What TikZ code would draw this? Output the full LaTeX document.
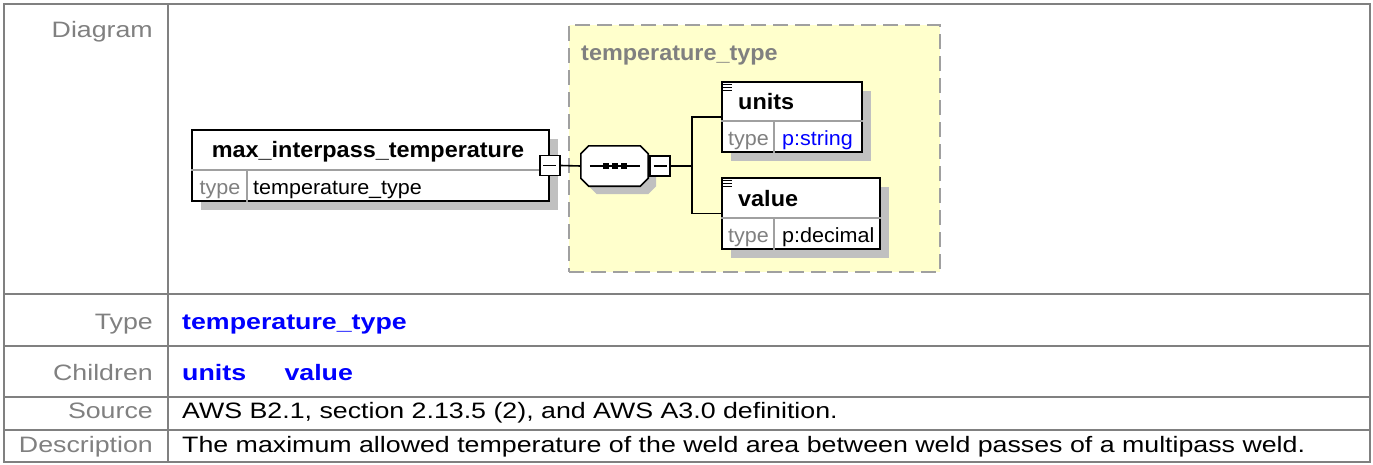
\documentclass[tikz,border=0pt]{standalone}
\usepackage{fontspec}
\setmainfont{Liberation Sans}[FakeStretch=1.2]
\newfontfamily\diagfont{Liberation Sans}[FakeStretch=1.05]
\usepackage{tikz}
\usetikzlibrary{positioning}
\usetikzlibrary{shadows}

\definecolor{gridgray}{HTML}{808080}
\definecolor{divgray}{HTML}{A0A0A0}
\definecolor{shadegray}{HTML}{C0C0C0}
\definecolor{typeyellow}{HTML}{FFFFCC}
\definecolor{refblue}{HTML}{0000FF}

\newcommand{\tablefont}{\fontsize{22.3}{26}\selectfont}
\newcommand{\elemfont}{\diagfont\fontsize{22.3}{26}\selectfont\bfseries}
\newcommand{\attrfont}{\diagfont\fontsize{20.5}{24}\selectfont}

\begin{document}
\begin{tikzpicture}[%
  x=1pt, y=-1pt,
  cell/.style={line width=2.5pt, draw=gridgray},
  rowhead/.style={anchor=base east, inner sep=0pt, text=gridgray, font=\tablefont},
  rowtext/.style={anchor=base west, inner sep=0pt, font=\tablefont},
  typearea/.style={draw=divgray, fill=typeyellow, line width=2.5pt,
    dash pattern=on 15pt off 7pt, inner sep=0pt},
  elembox/.style={draw, line width=1.8pt, fill=white, inner sep=0pt,
    drop shadow={shadow xshift=9pt, shadow yshift=-9pt, opacity=1, fill=shadegray}},
  divline/.style={draw=divgray, line width=1.4pt},
  elemname/.style={anchor=base, inner sep=0pt, font=\elemfont},
  typetag/.style={anchor=base, inner sep=0pt, text=gridgray, font=\attrfont},
  typename/.style={anchor=base west, inner sep=0pt, font=\attrfont},
  expander/.style={draw, line width=1.6pt, fill=white, minimum size=20pt, inner sep=0pt,
    path picture={\draw[line width=1.6pt]
      ([xshift=-6.5pt]path picture bounding box.center) --
      ([xshift=6.5pt]path picture bounding box.center);}},
  link/.style={line width=1.6pt}]

  \useasboundingbox (0,0) rectangle (1373,464);

  % table
  \draw[cell] (4,4) rectangle (1370,462);
  \draw[cell] (168,4) -- (168,462);
  \foreach \ry in {294,346,397,430}
    \draw[cell] (4,\ry) -- (1370,\ry);

  \node[rowhead] (hdiagram) at (153,37) {Diagram};
  \node[rowhead] (htype) at (153,329.5) {Type};
  \node[rowhead] (hchildren) at (153,380) {Children};
  \node[rowhead] (hsource) at (153,418.5) {Source};
  \node[rowhead] (hdesc) at (153,452) {Description};

  \node[rowtext, text=refblue, font=\tablefont\bfseries] (ttype) at (182,329.5) {temperature\_type};
  \node[rowtext, text=refblue, font=\tablefont\bfseries] (tunits) at (182,380) {units};
  \node[rowtext, text=refblue, font=\tablefont\bfseries, right=38pt of tunits.base east, anchor=base west] (tvalue) {value};
  \node[rowtext] (tsource) at (182,418.5) {AWS B2.1, section 2.13.5 (2), and AWS A3.0 definition.};
  \node[rowtext] (tdesc) at (182,452) {The maximum allowed temperature of the weld area between weld passes of a multipass weld.};

  % complex type area
  \node[typearea, minimum width=371pt, minimum height=247pt] (tarea) at (754.5,148.5) {};
  \node[anchor=base west, inner sep=0pt, text=gridgray, font=\elemfont] (ttitle) at (581,60) {temperature\_type};

  % max_interpass_temperature
  \node[elembox, minimum width=357pt, minimum height=71pt] (maxbox) at (370.5,165.5) {};
  \draw[divline] ([yshift=-41pt]maxbox.north west) -- ([yshift=-41pt]maxbox.north east);
  \draw[divline] ([xshift=56pt]maxbox.south west) -- ([xshift=56pt,yshift=-41pt]maxbox.north west);
  \node[elemname] (maxname) at (368,157) {max\_interpass\_temperature};
  \node[typetag] (maxtag) at (220,194) {type};
  \node[typename] (maxtype) at (253,194) {temperature\_type};
  \node[expander] (maxexp) at (maxbox.east) {};

  % sequence
  \node[minimum width=67pt, minimum height=40pt, inner sep=0pt] (seq) at (614.5,166) {};
  \draw[link, fill=white, drop shadow={shadow xshift=8pt, shadow yshift=-8pt, opacity=1, fill=shadegray}]
    ([xshift=8pt]seq.north west) -- ([xshift=-8pt]seq.north east) --
    ([yshift=-8pt]seq.north east) -- ([yshift=8pt]seq.south east) --
    ([xshift=-8pt]seq.south east) -- ([xshift=8pt]seq.south west) --
    ([yshift=8pt]seq.south west) -- ([yshift=-8pt]seq.north west) -- cycle;
  \draw[link] ([xshift=9pt]seq.west) -- ([xshift=-8pt]seq.east);
  \foreach \dx in {-9,0,9}
    \fill ([xshift=\dx pt]seq.center) +(-3pt,-3pt) rectangle +(3pt,3pt);
  \node[expander, anchor=west] (seqexp) at ([xshift=1pt]seq.east) {};
  \draw[link] (maxexp.east) -- (seq.west);

  % units
  \node[elembox, minimum width=140pt, minimum height=70pt] (unitsbox) at (792,117) {};
  \draw[divline] ([yshift=-40pt]unitsbox.north west) -- ([yshift=-40pt]unitsbox.north east);
  \draw[divline] ([xshift=53pt]unitsbox.south west) -- ([xshift=53pt,yshift=-40pt]unitsbox.north west);
  \foreach \dy in {3,6,9}
    \draw[line width=1.2pt] ([xshift=2pt,yshift=-\dy pt]unitsbox.north west) -- ++(9pt,0);
  \node[elemname, anchor=base west] (unitsname) at (738,109) {units};
  \node[typetag] (unitstag) at (748.5,145) {type};
  \node[typename, text=refblue] (unitstype) at (782,145) {p:string};

  % value
  \node[elembox, minimum width=158pt, minimum height=71pt] (valuebox) at (801,213.5) {};
  \draw[divline] ([yshift=-41pt]valuebox.north west) -- ([yshift=-41pt]valuebox.north east);
  \draw[divline] ([xshift=53pt]valuebox.south west) -- ([xshift=53pt,yshift=-41pt]valuebox.north west);
  \foreach \dy in {3,6,9}
    \draw[line width=1.2pt] ([xshift=2pt,yshift=-\dy pt]valuebox.north west) -- ++(9pt,0);
  \node[elemname, anchor=base west] (valuename) at (738,206) {value};
  \node[typetag] (valuetag) at (748.5,242) {type};
  \node[typename] (valuetype) at (782,242) {p:decimal};

  % branch to children
  \coordinate[right=21pt of seqexp.east] (branch);
  \draw[link] (seqexp.east) -- (branch);
  \draw[link] (branch) |- (unitsbox.west);
  \draw[link] (branch) |- (valuebox.west);
\end{tikzpicture}
\end{document}
